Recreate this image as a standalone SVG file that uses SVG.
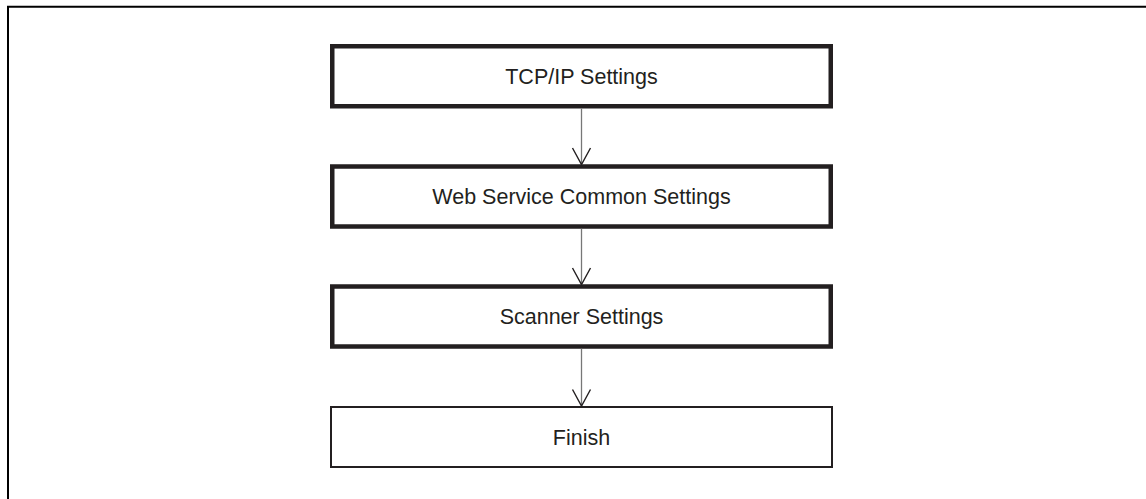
<svg xmlns="http://www.w3.org/2000/svg" width="1146" height="499" viewBox="0 0 1146 499">
<style>
.bold{fill:#fff;stroke:#231f20;stroke-width:4.5}
.thin{fill:#fff;stroke:#231f20;stroke-width:2}
.lbl{font-family:"Liberation Sans",Arial,sans-serif;font-size:21.5px;fill:#231f20;text-anchor:middle}
.ln{stroke:#777;stroke-width:1.3;fill:none}
.hd{stroke:#231f20;stroke-width:1.4;fill:none}
</style>
<rect width="1146" height="499" fill="#fff"/>
<path d="M8,499 V6.7 H1146" fill="none" stroke="#000" stroke-width="2"/>
<g id="n1"><rect class="bold" x="332.25" y="46.25" width="498.5" height="60"/><text class="lbl" x="581.5" y="83.5">TCP/IP Settings</text></g>
<g id="n2"><rect class="bold" x="332.25" y="166.5" width="498.5" height="60"/><text class="lbl" x="581.5" y="204">Web Service Common Settings</text></g>
<g id="n3"><rect class="bold" x="332.25" y="286.5" width="498.5" height="60"/><text class="lbl" x="581.5" y="324">Scanner Settings</text></g>
<g id="n4"><rect class="thin" x="331" y="407" width="501" height="60"/><text class="lbl" x="581.5" y="444.5">Finish</text></g>
<g id="connectors">
<line class="ln" x1="581.5" y1="108.5" x2="581.5" y2="164"/>
<path class="hd" d="M572.5,148 L581.5,164.5 L590.5,148"/>
<line class="ln" x1="581.5" y1="228.8" x2="581.5" y2="284"/>
<path class="hd" d="M572.5,268 L581.5,284.5 L590.5,268"/>
<line class="ln" x1="581.5" y1="348.8" x2="581.5" y2="406"/>
<path class="hd" d="M572.5,389.5 L581.5,406 L590.5,389.5"/>
</g>
</svg>
